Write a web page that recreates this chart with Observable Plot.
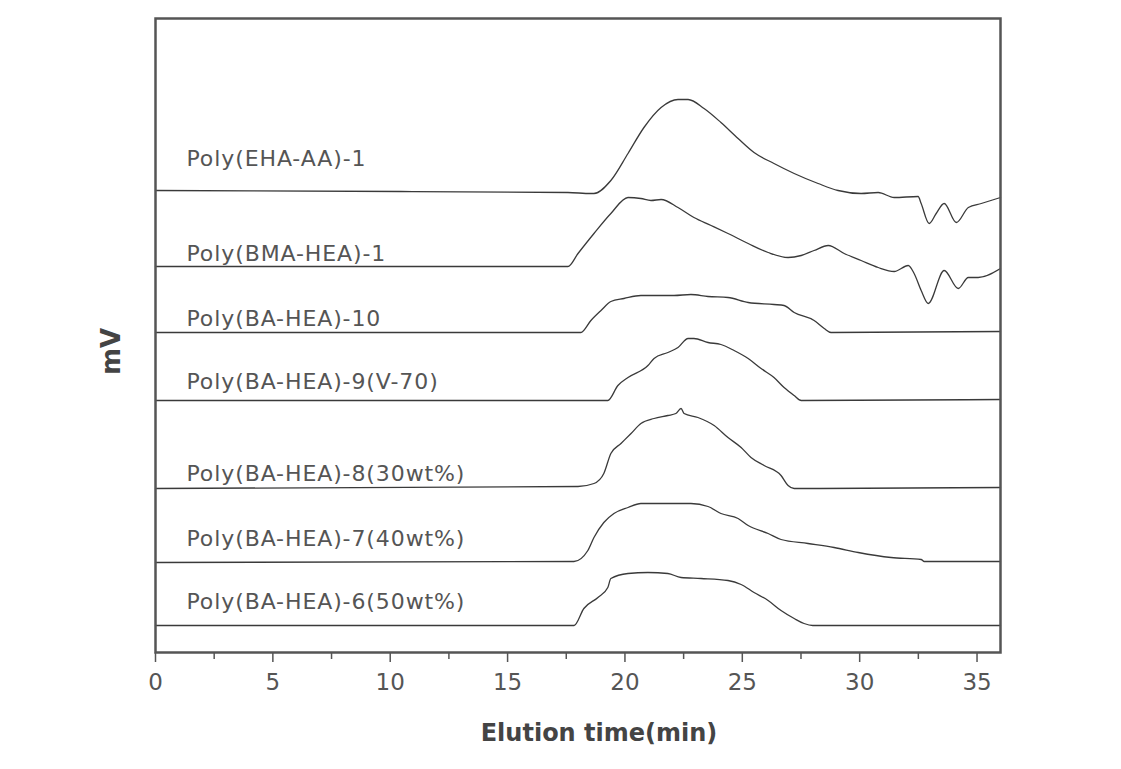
<!DOCTYPE html>
<html><head><meta charset="utf-8">
<script src="https://cdn.jsdelivr.net/npm/d3@7"></script>
<script src="https://cdn.jsdelivr.net/npm/@observablehq/plot@0.6"></script>
<style>body{margin:0;background:#fff}</style>
</head><body><div id="chart"></div>
<script>
// Series names (top to bottom)
const seriesNames = [
  "Poly(EHA-AA)-1",
  "Poly(BMA-HEA)-1",
  "Poly(BA-HEA)-10",
  "Poly(BA-HEA)-9(V-70)",
  "Poly(BA-HEA)-8(30wt%)",
  "Poly(BA-HEA)-7(40wt%)",
  "Poly(BA-HEA)-6(50wt%)"
];

// Elution time (min) and signal (mV, arbitrary offset units) per trace
const ehaTime = [0, 10.45, 17.57, 18.55, 18.68, 19.40, 20.13, 20.81, 21.54, 22.26, 22.69, 23.37, 24.09, 24.82, 25.50, 26.35, 27.21, 28.23, 29.08, 30.06, 30.79, 31.47, 32.49, 32.62, 32.96, 33.26, 33.60, 34.12, 34.63, 35.18, 36];
const ehaMv   = [462, 461, 460, 459, 459, 472, 499, 525, 545, 553, 553, 544, 530, 514, 500, 489, 479, 469, 462, 459, 460, 455, 456, 449, 429, 439, 449, 430, 445, 449, 455];

const bmaTime = [0, 10, 17.57, 18.0, 18.68, 19.40, 20.13, 20.68, 21.11, 21.54, 22.26, 22.94, 23.67, 24.39, 25.25, 26.10, 26.95, 27.51, 28.06, 28.66, 29.34, 30.06, 30.79, 31.47, 32.07, 32.32, 32.62, 32.92, 33.60, 34.20, 34.63, 35.05, 36];
const bmaMv   = [386, 386, 386, 399, 419, 439, 455, 454, 452, 453, 445, 435, 427, 419, 409, 400, 395, 397, 402, 407, 399, 392, 385, 381, 387, 379, 362, 349, 382, 364, 375, 375, 384];

const ba10Time = [0, 18.12, 18.55, 18.98, 19.40, 19.96, 20.68, 22.09, 22.81, 23.54, 24.39, 25.25, 26.35, 26.78, 27.21, 28.06, 28.49, 28.78, 36];
const ba10Mv   = [320, 320, 332, 342, 351, 354, 357, 357, 358, 356, 355, 350, 348, 347, 340, 332, 324, 320, 321];

const ba9Time = [0, 19.27, 19.70, 20.13, 20.98, 21.24, 21.83, 22.26, 22.69, 22.94, 23.54, 24.09, 24.65, 25.25, 25.80, 26.35, 26.78, 27.21, 27.51, 36];
const ba9Mv   = [252, 252, 267, 275, 287, 294, 300, 305, 314, 314, 310, 308, 302, 294, 284, 275, 265, 257, 252, 253];

const ba8Time = [0, 18.0, 18.68, 19.10, 19.40, 19.83, 20.26, 20.68, 21.24, 21.83, 22.17, 22.39, 22.52, 23.11, 23.80, 24.39, 24.95, 25.37, 25.93, 26.65, 26.95, 27.21, 36];
const ba8Mv   = [164, 166, 169, 179, 199, 209, 219, 229, 234, 237, 239, 244, 239, 235, 227, 215, 205, 195, 187, 177, 167, 164, 165];

const ba7Time = [0, 17.83, 18.42, 18.68, 19.10, 19.53, 20.13, 20.68, 21.41, 22.09, 22.81, 23.54, 24.09, 24.82, 25.25, 26.10, 26.65, 27.80, 28.91, 29.94, 31.34, 32.62, 32.75, 36];
const ba7Mv   = [90, 91, 102, 115, 130, 139, 145, 149, 149, 149, 149, 146, 139, 134, 127, 119, 113, 109, 105, 100, 95, 93, 91, 91];

const ba6Time = [0, 17.83, 18.25, 18.85, 19.27, 19.40, 20.13, 20.98, 21.83, 22.39, 23.24, 24.39, 24.95, 25.50, 26.10, 26.65, 27.21, 27.63, 28.0, 36];
const ba6Mv   = [27, 27, 44, 55, 65, 74, 79, 80, 79, 75, 74, 72, 68, 60, 52, 42, 34, 29, 27, 27];

// Label levels (mV units) for the trace names
const labelLevels = [494, 399, 334, 271, 179, 114, 51];
const labelTime = 1.32;

// Axis ticks
const majorTicks = [0, 5, 10, 15, 20, 25, 30, 35];
const minorTicks = [2.5, 7.5, 12.5, 17.5, 22.5, 27.5, 32.5];

const times = [ehaTime, bmaTime, ba10Time, ba9Time, ba8Time, ba7Time, ba6Time];
const values = [ehaMv, bmaMv, ba10Mv, ba9Mv, ba8Mv, ba7Mv, ba6Mv];
const rows = seriesNames.flatMap((name, i) => times[i].map((t, j) => ({name, t, v: values[i][j]})));
const labelRows = seriesNames.map((name, i) => ({name, t: labelTime, v: labelLevels[i]}));

const chart = Plot.plot({
  width: 1121, height: 769,
  marginTop: 18, marginRight: 121, marginBottom: 117, marginLeft: 155,
  style: {fontFamily: "DejaVu Sans", background: "#fff", overflow: "visible"},
  x: {domain: [0, 36]},
  y: {domain: [0, 634], axis: null},
  marks: [
    Plot.line(rows, {x: "t", y: "v", z: "name", stroke: "#3a3a3a", strokeWidth: 1.3, curve: "monotone-x"}),
    Plot.text(labelRows, {x: "t", y: "v", text: "name", textAnchor: "start", fontSize: 22, fill: "#555"}),
    Plot.axisX(majorTicks, {tickSize: 10, tickPadding: 11, fontSize: 23, label: null, color: "#555", strokeWidth: 1.5}),
    Plot.axisX(minorTicks, {tickSize: 7, tickFormat: () => "", label: null, color: "#555", strokeWidth: 1.5}),
    Plot.frame({stroke: "#555", strokeWidth: 2.5}),
    Plot.text(["Elution time(min)"], {frameAnchor: "bottom", lineAnchor: "middle", textAnchor: "middle", dx: 21, dy: 81, fontSize: 24, fontWeight: "bold", fill: "#444"}),
    Plot.text(["mV"], {frameAnchor: "left", textAnchor: "middle", lineAnchor: "middle", dx: -44, dy: 16, rotate: -90, fontSize: 26, fontWeight: "bold", fill: "#444"})
  ]
});
document.getElementById("chart").appendChild(chart);
// widen trace-name lettering to match the reference typeface
d3.select(chart).selectAll("text").filter(function() { return seriesNames.includes(this.textContent); })
  .style("letter-spacing", "0.9px");
</script>
</body></html>
